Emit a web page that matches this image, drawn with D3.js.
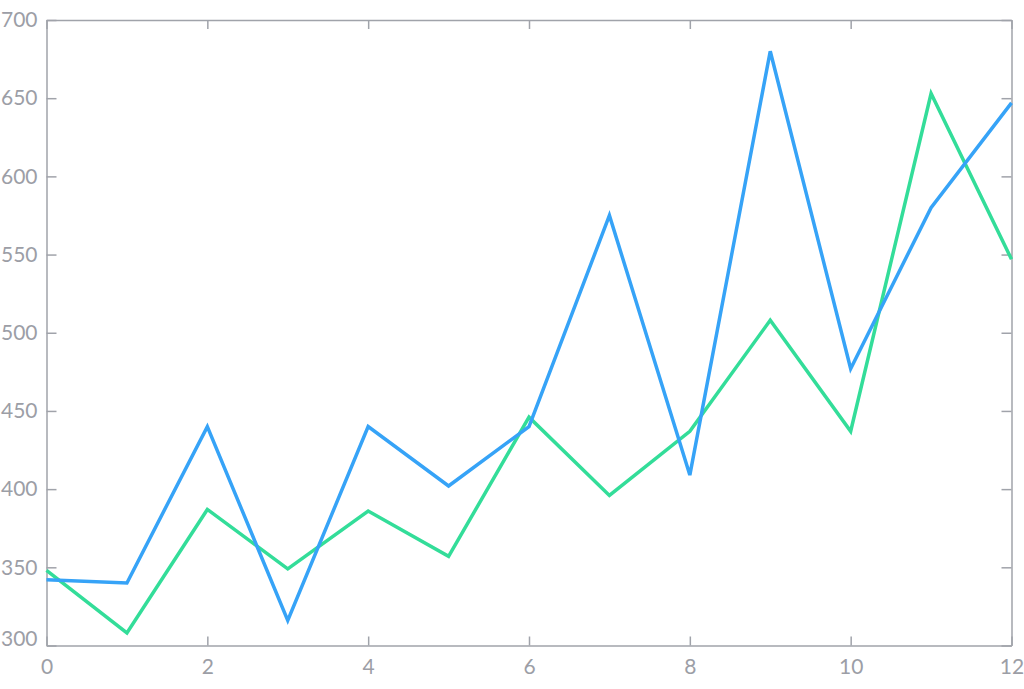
<!DOCTYPE html>
<html>
<head>
<meta charset="utf-8">
<script src="https://cdn.jsdelivr.net/npm/d3@7"></script>
<style>
  body { margin: 0; background: #fff; }
  .axis path, .axis line { stroke: #a0a3aa; stroke-width: 1.5px; }
  .axis text { fill: #9c9ea6; font-family: Lato, "Open Sans", sans-serif; font-size: 21px; }
  .line { fill: none; stroke-width: 3.5px; stroke-linejoin: miter; }
</style>
</head>
<body>
<svg width="1024" height="689"></svg>
<script>
// chart data
var xValues = [0, 1, 2, 3, 4, 5, 6, 7, 8, 9, 10, 11, 12];
var blueValues = [342, 340, 440, 316, 440, 402, 440, 575, 409, 680, 477, 580, 647];
var greenValues = [348, 308, 387, 349, 386, 357, 446, 396, 437, 508, 437, 653, 547];
var xTicks = [0, 2, 4, 6, 8, 10, 12];
var yTicks = [300, 350, 400, 450, 500, 550, 600, 650, 700];

var svg = d3.select("svg");
var plotLeft = 46.5, plotRight = 1011.5, plotTop = 20, plotBottom = 645.5;

var x = d3.scaleLinear().domain([0, 12]).range([plotLeft, plotRight]);
var y = d3.scaleLinear().domain([300, 700]).range([plotBottom, plotTop]);

svg.append("g").attr("class", "axis")
    .attr("transform", "translate(0," + plotBottom + ")")
    .call(d3.axisBottom(x).tickValues(xTicks).tickSize(-9).tickSizeOuter(0).tickPadding(14));

svg.append("g").attr("class", "axis")
    .attr("transform", "translate(0," + plotTop + ")")
    .call(d3.axisTop(x).tickValues(xTicks).tickSize(-9).tickSizeOuter(0).tickFormat(""));

svg.append("g").attr("class", "axis")
    .attr("transform", "translate(" + plotLeft + ",0)")
    .call(d3.axisLeft(y).tickValues(yTicks).tickSize(-10).tickSizeOuter(0).tickPadding(9))
    .selectAll("text")
    .attr("dy", function(d) { return d === 300 ? "0.0em" : "0.32em"; });

svg.append("g").attr("class", "axis")
    .attr("transform", "translate(" + plotRight + ",0)")
    .call(d3.axisRight(y).tickValues(yTicks).tickSize(-10).tickSizeOuter(0).tickFormat(""));

var line = d3.line()
    .x(function(d, i) { return x(xValues[i]); })
    .y(function(d) { return y(d); });

svg.append("path").datum(greenValues)
    .attr("class", "line")
    .attr("stroke", "#33dd99")
    .attr("d", line);

svg.append("path").datum(blueValues)
    .attr("class", "line")
    .attr("stroke", "#36a3f7")
    .attr("d", line);
</script>
</body>
</html>
